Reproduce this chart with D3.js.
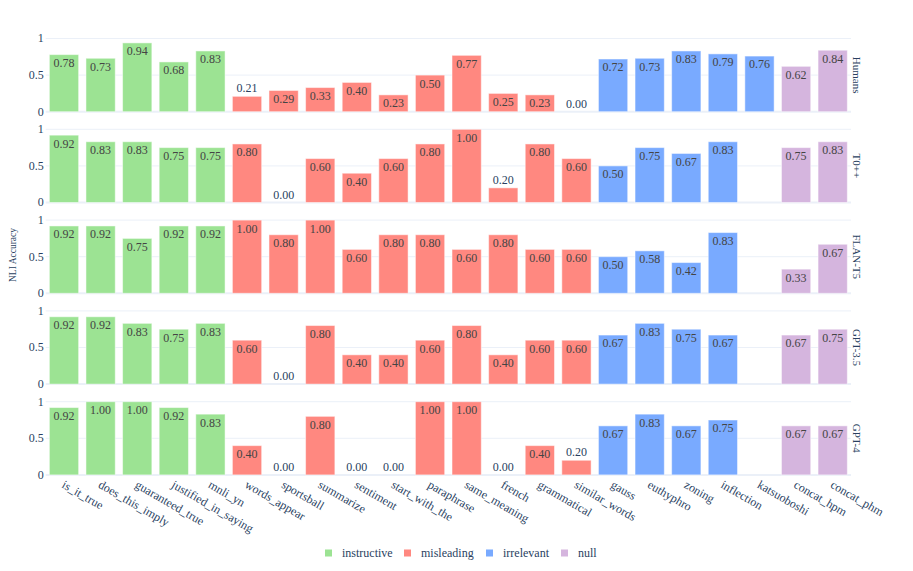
<!DOCTYPE html>
<html lang="en">
<head>
  <meta charset="UTF-8">
  <title>NLI Accuracy by template</title>
  <style>
    html, body {
      background: #ffffff;
      margin: 0px;
      overflow: hidden;
    }
  </style>
</head>
<body>
<div id="container"></div>

<script src="https://cdnjs.cloudflare.com/ajax/libs/d3/7.8.5/d3.min.js"></script>
<script>

  // ---- data ----
  var categories = [
    "is_it_true", "does_this_imply", "guaranteed_true", "justified_in_saying", "mnli_yn",
    "words_appear", "sportsball", "summarize", "sentiment", "start_with_the",
    "paraphrase", "same_meaning", "french", "grammatical", "similar_words",
    "gauss", "euthyphro", "zoning", "inflection", "katsuoboshi",
    "concat_hpm", "concat_phm"
  ];
  var groups = [
    "instructive", "instructive", "instructive", "instructive", "instructive",
    "misleading", "misleading", "misleading", "misleading", "misleading",
    "misleading", "misleading", "misleading", "misleading", "misleading",
    "irrelevant", "irrelevant", "irrelevant", "irrelevant", "irrelevant",
    "null", "null"
  ];
  var groupNames = ["instructive", "misleading", "irrelevant", "null"];
  var models = ["Humans", "T0++", "FLAN-T5", "GPT-3.5", "GPT-4"];

  var humans = [0.78, 0.73, 0.94, 0.68, 0.83, 0.21, 0.29, 0.33, 0.40, 0.23, 0.50, 0.77, 0.25, 0.23, 0.00, 0.72, 0.73, 0.83, 0.79, 0.76, 0.62, 0.84];
  var t0pp   = [0.92, 0.83, 0.83, 0.75, 0.75, 0.80, 0.00, 0.60, 0.40, 0.60, 0.80, 1.00, 0.20, 0.80, 0.60, 0.50, 0.75, 0.67, 0.83, null, 0.75, 0.83];
  var flant5 = [0.92, 0.92, 0.75, 0.92, 0.92, 1.00, 0.80, 1.00, 0.60, 0.80, 0.80, 0.60, 0.80, 0.60, 0.60, 0.50, 0.58, 0.42, 0.83, null, 0.33, 0.67];
  var gpt35  = [0.92, 0.92, 0.83, 0.75, 0.83, 0.60, 0.00, 0.80, 0.40, 0.40, 0.60, 0.80, 0.40, 0.60, 0.60, 0.67, 0.83, 0.75, 0.67, null, 0.67, 0.75];
  var gpt4   = [0.92, 1.00, 1.00, 0.92, 0.83, 0.40, 0.00, 0.80, 0.00, 0.00, 1.00, 1.00, 0.00, 0.40, 0.20, 0.67, 0.83, 0.67, 0.75, null, 0.67, 0.67];
  var seriesValues = [humans, t0pp, flant5, gpt35, gpt4];

  var yTicks = [0, 0.5, 1];
  var yTickLabels = ["0", "0.5", "1"];

  // ---- layout ----
  var width = 913, height = 571;
  var plotLeft = 45.7, plotRight = 851;
  var firstZero = 111.7, rowStep = 90.8, rowHeight = 73.2;
  var textColor = "#2a3f5f";
  var gridColor = "#ebf0f8";
  var serif = "'Liberation Serif', 'Times New Roman', Times, serif";

  var color = d3.scaleOrdinal()
    .domain(groupNames)
    .range(["#9ce393", "#ff8880", "#79aaff", "#d5b5de"]);

  var svg = d3.select("#container").append("svg")
    .attr("width", width)
    .attr("height", height)
    .attr("font-family", serif);

  var x = d3.scaleBand()
    .domain(categories)
    .range([plotLeft, plotRight])
    .paddingInner(0.2)
    .paddingOuter(0.1);

  models.forEach(function(model, i) {
    var zero = firstZero + rowStep * i;
    var y = d3.scaleLinear().domain([0, 1]).range([zero, zero - rowHeight]);
    var row = svg.append("g").attr("class", "row");

    // grid
    row.selectAll("line.grid")
      .data(yTicks)
      .enter().append("line")
      .attr("class", "grid")
      .attr("x1", plotLeft).attr("x2", plotRight)
      .attr("y1", d => y(d)).attr("y2", d => y(d))
      .style("stroke", gridColor)
      .style("stroke-width", d => d === 0 ? 2 : 1);

    // y tick labels
    row.selectAll("text.ytick")
      .data(yTicks)
      .enter().append("text")
      .attr("class", "ytick")
      .attr("x", plotLeft - 2)
      .attr("y", d => y(d))
      .attr("dy", "0.32em")
      .attr("text-anchor", "end")
      .style("font-family", serif)
      .style("font-size", "12px")
      .style("fill", textColor)
      .text((d, k) => yTickLabels[k]);

    var data = categories.map(function(c, k) {
      return { cat: c, group: groups[k], value: seriesValues[i][k] };
    }).filter(d => d.value !== null);

    // bars
    row.selectAll("rect")
      .data(data)
      .enter().append("rect")
      .attr("x", d => x(d.cat))
      .attr("width", x.bandwidth())
      .attr("y", d => y(d.value))
      .attr("height", d => y(0) - y(d.value))
      .style("fill", d => color(d.group))
      .style("stroke", "rgba(255,255,255,0.5)")
      .style("stroke-width", 1);

    // value labels: inside at top when it fits, else just above
    row.selectAll("text.val")
      .data(data)
      .enter().append("text")
      .attr("class", "val")
      .attr("x", d => x(d.cat) + x.bandwidth() / 2)
      .attr("y", function(d) {
        var h = y(0) - y(d.value);
        return h >= 16 ? y(d.value) + 12.4 : y(d.value) - 4;
      })
      .attr("text-anchor", "middle")
      .style("font-family", serif)
      .style("font-size", "12px")
      .style("fill", d => (y(0) - y(d.value)) >= 16 ? "#444444" : textColor)
      .text(d => d.value.toFixed(2));

    // facet label on the right
    row.append("text")
      .attr("transform", "translate(853," + (zero - rowHeight / 2) + ") rotate(90)")
      .attr("text-anchor", "middle")
      .style("font-family", serif)
      .style("font-size", "11px")
      .style("fill", textColor)
      .text(model);
  });

  // x tick labels, angled
  svg.append("g").selectAll("text")
    .data(categories)
    .enter().append("text")
    .attr("transform", d => "translate(" + (x(d) + x.bandwidth() / 2 - 3) + ",487) rotate(30)")
    .attr("text-anchor", "start")
    .style("font-family", serif)
    .style("font-size", "12px")
    .style("fill", textColor)
    .text(d => d);

  // y axis title
  svg.append("text")
    .attr("transform", "translate(16,255) rotate(-90)")
    .attr("text-anchor", "middle")
    .style("font-family", serif)
    .style("font-size", "9.5px")
    .style("fill", textColor)
    .text("NLI Accuracy");

  // legend
  var legendX = [325, 404, 486, 561];
  var legend = svg.append("g").selectAll("g")
    .data(groupNames)
    .enter().append("g")
    .attr("transform", (d, k) => "translate(" + legendX[k] + ",553)");

  legend.append("rect")
    .attr("x", 0).attr("y", -3.5)
    .attr("width", 7).attr("height", 7)
    .style("fill", d => color(d));

  legend.append("text")
    .attr("x", 17)
    .attr("dy", "0.32em")
    .style("font-family", serif)
    .style("font-size", "12px")
    .style("fill", textColor)
    .text(d => d);

</script>
</body>
</html>
